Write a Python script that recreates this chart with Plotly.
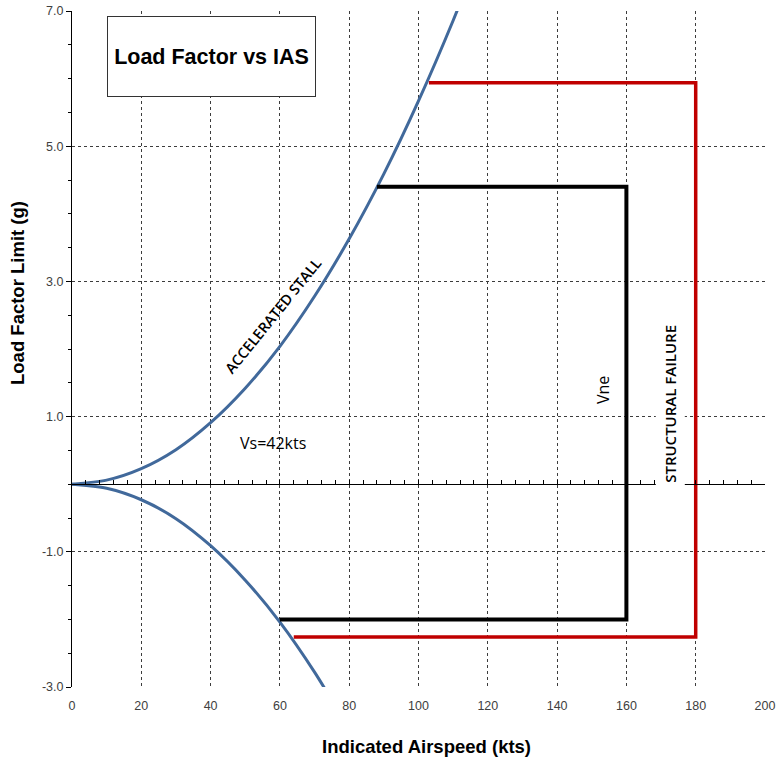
import plotly.graph_objects as go

# Indicated airspeed samples (kts) for the stall boundary
airspeed = [0, 10, 20, 30, 40, 50, 60, 70, 80, 90, 100, 110, 120]
# Positive accelerated-stall load factor (g)
stall_pos = [0, 0.06, 0.23, 0.51, 0.91, 1.42, 2.04, 2.78, 3.63, 4.59, 5.67, 6.86, 8.16]
# Negative accelerated-stall load factor (g)
airspeed_neg = [0, 10, 20, 30, 40, 50, 60, 70, 80]
stall_neg = [0, -0.06, -0.23, -0.51, -0.91, -1.42, -2.04, -2.78, -3.63]

# Operating envelope (limit load / Vne)
limit_v = [88, 160, 160, 60]
limit_g = [4.4, 4.4, -2.0, -2.0]

# Structural failure boundary
fail_v = [103, 180, 180, 64]
fail_g = [5.94, 5.94, -2.26, -2.26]

x_ticks = [0, 20, 40, 60, 80, 100, 120, 140, 160, 180, 200]
y_ticks = [-3.0, -1.0, 1.0, 3.0, 5.0, 7.0]

BLUE = "#41699B"
RED = "#C00000"
FONT = "Arial, Liberation Sans, sans-serif"
LABEL_FONT = "Open Sans, sans-serif"

fig = go.Figure()

fig.add_trace(go.Scatter(x=airspeed, y=stall_pos, mode="lines",
                         line=dict(color=BLUE, width=3, shape="spline", smoothing=0.8),
                         hoverinfo="skip", showlegend=False))
fig.add_trace(go.Scatter(x=airspeed_neg, y=stall_neg, mode="lines",
                         line=dict(color=BLUE, width=3, shape="spline", smoothing=0.8),
                         hoverinfo="skip", showlegend=False))
fig.add_trace(go.Scatter(x=fail_v, y=fail_g, mode="lines",
                         line=dict(color=RED, width=3.5),
                         hoverinfo="skip", showlegend=False))
fig.add_trace(go.Scatter(x=limit_v, y=limit_g, mode="lines",
                         line=dict(color="black", width=4),
                         hoverinfo="skip", showlegend=False))
# Anchor trace for the zero-g axis (carries the minor ticks)
fig.add_trace(go.Scatter(x=[0, 200], y=[0, 0], mode="lines", xaxis="x2",
                         line=dict(color="rgba(0,0,0,0)", width=0),
                         hoverinfo="skip", showlegend=False))

grid_col = "#3c3c3c"

fig.update_layout(
    width=781, height=758,
    margin=dict(l=72, r=16, t=11, b=71),
    paper_bgcolor="white", plot_bgcolor="white",
    font=dict(family=FONT, color="#404040", size=12),
    xaxis=dict(
        range=[0, 200], tickvals=x_ticks, ticktext=[str(v) for v in x_ticks],
        showgrid=True, gridcolor=grid_col, griddash="dot", gridwidth=1,
        showline=False, zeroline=False, ticks="", ticklabelstandoff=9,
        automargin=False,
        tickfont=dict(family=FONT, size=12.5, color="#404040"),
    ),
    xaxis2=dict(
        range=[0, 200], overlaying="x", anchor="free", position=0.3, side="bottom",
        showline=True, linecolor="black", linewidth=1, automargin=False,
        ticks="inside", dtick=4, tick0=0, ticklen=4, tickcolor="black", tickwidth=1,
        showticklabels=False, showgrid=False, zeroline=False,
    ),
    yaxis=dict(
        range=[-3, 7], tickvals=y_ticks, ticktext=[f"{v:.1f}" for v in y_ticks],
        showgrid=True, gridcolor=grid_col, griddash="dot", gridwidth=1,
        showline=True, linecolor="black", linewidth=1, zeroline=False,
        ticks="outside", ticklen=5, tickcolor="black", automargin=False,
        minor=dict(dtick=0.5, tick0=0, ticks="outside", ticklen=3, tickcolor="black", showgrid=False),
        tickfont=dict(family=FONT, size=12.5, color="#404040"),
    ),
)

annotations = [
    # axis titles
    dict(text="<b>Indicated Airspeed (kts)</b>", xref="paper", yref="paper",
         x=(426 - 72) / 693, y=(687 - 746) / 676, xanchor="center", yanchor="middle",
         showarrow=False, font=dict(family=FONT, size=18.5, color="black")),
    dict(text="<b>Load Factor Limit (g)</b>", xref="paper", yref="paper",
         x=(17 - 72) / 693, y=(687 - 293) / 676, xanchor="center", yanchor="middle",
         textangle=-90, showarrow=False, font=dict(family=FONT, size=18.5, color="black")),
    # chart title box
    dict(text="<b>Load Factor vs IAS</b>", xref="paper", yref="paper",
         x=0.2013, y=0.9327, xanchor="center", yanchor="middle", showarrow=False,
         font=dict(family=FONT, size=21.5, color="black"),
         bgcolor="white", bordercolor="#333333", borderwidth=1,
         width=205, height=77),
    # in-plot labels
    dict(text="ACCELERATED STALL", x=58.0, y=2.50, textangle=-51, showarrow=False,
         font=dict(family=LABEL_FONT, size=14.5, color="black", weight=600)),
    dict(text="Vs=42kts", x=58.0, y=0.61, showarrow=False,
         font=dict(family=LABEL_FONT, size=16, color="black")),
    dict(text="Vne", x=153.2, y=1.39, textangle=-90, showarrow=False,
         font=dict(family=LABEL_FONT, size=16, color="black")),
    dict(text="STRUCTURAL FAILURE", x=172.6, y=1.19, textangle=-90, showarrow=False,
         font=dict(family=LABEL_FONT, size=15, color="black", weight=600),
         bgcolor="white", borderpad=4),
]
fig.update_layout(annotations=annotations)

fig.write_html("out.html")
